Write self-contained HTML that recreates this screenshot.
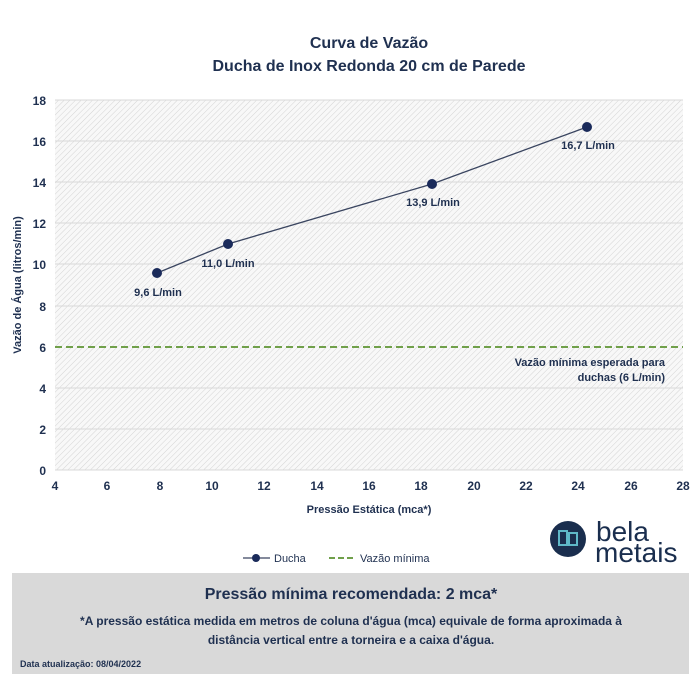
<!DOCTYPE html>
<html><head><meta charset="utf-8"><style>
body{margin:0;background:#fff;width:700px;height:700px;overflow:hidden;font-family:"Liberation Sans",sans-serif;color:#1f3050}
</style></head><body>
<svg width="700" height="700" xmlns="http://www.w3.org/2000/svg" style="position:absolute;left:0;top:0">
<defs>
<pattern id="h" width="4" height="4" patternUnits="userSpaceOnUse" patternTransform="rotate(45)">
<rect width="4" height="4" fill="#f8f8f8"/><line x1="0" y1="0" x2="0" y2="4" stroke="#d4d4d4" stroke-width="1"/>
</pattern>
</defs>
<g font-family="Liberation Sans, sans-serif" fill="#1f3050">
<text x="369" y="48" font-size="16" font-weight="bold" text-anchor="middle">Curva de Vazão</text>
<text x="369" y="71" font-size="16" font-weight="bold" text-anchor="middle">Ducha de Inox Redonda 20 cm de Parede</text>
<rect x="55" y="100" width="628" height="370" fill="url(#h)"/>
<g stroke="#d9d9d9" stroke-width="1">
<line x1="55" x2="683" y1="100" y2="100"/><line x1="55" x2="683" y1="141" y2="141"/>
<line x1="55" x2="683" y1="182" y2="182"/><line x1="55" x2="683" y1="223" y2="223"/>
<line x1="55" x2="683" y1="264" y2="264"/><line x1="55" x2="683" y1="306" y2="306"/>
<line x1="55" x2="683" y1="388" y2="388"/><line x1="55" x2="683" y1="429" y2="429"/>
<line x1="55" x2="683" y1="470" y2="470"/>
</g>
<g font-size="12" font-weight="bold" text-anchor="end">
<text x="46" y="105">18</text><text x="46" y="146">16</text><text x="46" y="187">14</text>
<text x="46" y="228">12</text><text x="46" y="269">10</text><text x="46" y="311">8</text>
<text x="46" y="352">6</text><text x="46" y="393">4</text><text x="46" y="434">2</text><text x="46" y="475">0</text>
</g>
<g font-size="12" font-weight="bold" text-anchor="middle">
<text x="55" y="490">4</text><text x="107" y="490">6</text><text x="160" y="490">8</text>
<text x="212" y="490">10</text><text x="264" y="490">12</text><text x="317" y="490">14</text>
<text x="369" y="490">16</text><text x="421" y="490">18</text><text x="474" y="490">20</text>
<text x="526" y="490">22</text><text x="578" y="490">24</text><text x="631" y="490">26</text><text x="683" y="490">28</text>
</g>
<text x="369" y="513" font-size="11" font-weight="bold" text-anchor="middle">Pressão Estática (mca*)</text>
<text transform="translate(21,285) rotate(-90)" font-size="11" font-weight="bold" text-anchor="middle">Vazão de Água (litros/min)</text>
<line x1="55" x2="683" y1="347" y2="347" stroke="#70a04a" stroke-width="2" stroke-dasharray="7,4"/>
<text x="665" y="366" font-size="11" font-weight="bold" text-anchor="end">Vazão mínima esperada para</text>
<text x="665" y="381" font-size="11" font-weight="bold" text-anchor="end">duchas (6 L/min)</text>
<polyline points="157,273 228,244 432,184 587,127" fill="none" stroke="#3a4560" stroke-width="1.3"/>
<g fill="#1a2a5a"><circle cx="157" cy="273" r="5"/><circle cx="228" cy="244" r="5"/><circle cx="432" cy="184" r="5"/><circle cx="587" cy="127" r="5"/></g>
<g font-size="11" font-weight="bold" text-anchor="middle">
<text x="158" y="296">9,6 L/min</text><text x="228" y="267">11,0 L/min</text>
<text x="433" y="206">13,9 L/min</text><text x="588" y="149">16,7 L/min</text>
</g>
<line x1="243" x2="270" y1="558" y2="558" stroke="#3a4560" stroke-width="1.3"/>
<circle cx="256" cy="558" r="4" fill="#1a2a5a"/>
<text x="274" y="562" font-size="11">Ducha</text>
<line x1="329" x2="356" y1="558" y2="558" stroke="#70a04a" stroke-width="2" stroke-dasharray="6,3"/>
<text x="360" y="562" font-size="11">Vazão mínima</text>
<circle cx="568" cy="539" r="18" fill="#1a2e4e"/>
<g stroke="#5fb8c8" stroke-width="2" fill="none"><rect x="559" y="531" width="8" height="14"/><rect x="569" y="533" width="8" height="12"/></g>
<text x="596" y="541" font-size="28" fill="#1a2e4e">bela</text>
<text x="595" y="562" font-size="28" fill="#1a2e4e">metais</text>
<rect x="12" y="573" width="677" height="101" fill="#d9d9d9"/>
<text x="351" y="599" font-size="16" font-weight="bold" text-anchor="middle">Pressão mínima recomendada: 2 mca*</text>
<text x="351" y="625" font-size="12" font-weight="bold" text-anchor="middle">*A pressão estática medida em metros de coluna d'água (mca) equivale de forma aproximada à</text>
<text x="351" y="644" font-size="12" font-weight="bold" text-anchor="middle">distância vertical entre a torneira e a caixa d'água.</text>
<text x="20" y="667" font-size="9" font-weight="bold">Data atualização:  08/04/2022</text>
</g>
</svg>
</body></html>
